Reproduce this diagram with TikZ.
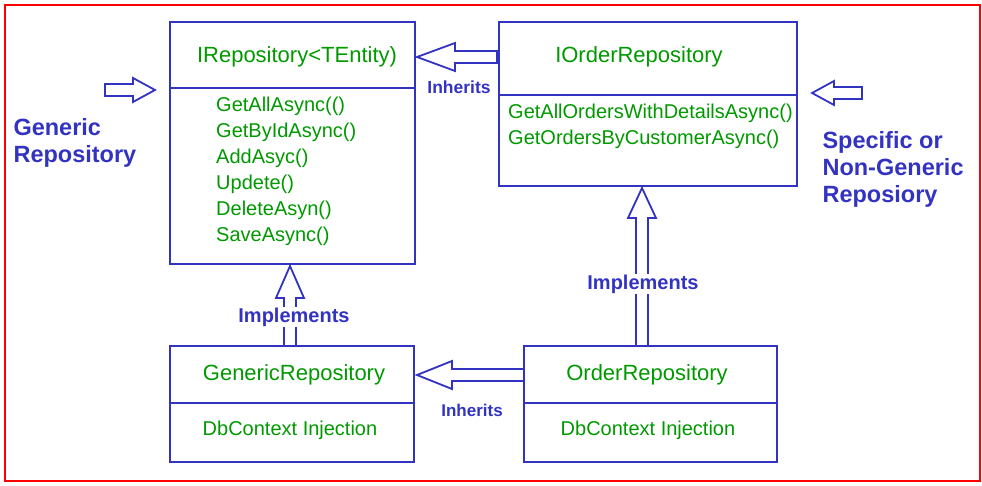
\documentclass[tikz,border=0pt]{standalone}
\usepackage{fontspec}
\setmainfont{Liberation Sans}
\begin{document}
\begin{tikzpicture}[x=1pt,y=-1pt,
  blu/.style={draw=blue!70!black!80, line width=1.8pt},
  box/.style={blu, fill=white},
  ttl/.style={text=green!60!black, font=\fontsize{22}{26}\selectfont},
  mth/.style={text=green!60!black, font=\fontsize{20}{26}\selectfont, align=left, inner sep=0pt},
  lbl/.style={text=blue!70!black!80, font=\bfseries\fontsize{20}{24}\selectfont, fill=white, inner sep=1pt},
  big/.style={text=blue!70!black!80, font=\bfseries\fontsize{23.5}{27}\selectfont, align=left}]
\useasboundingbox (0,0) rectangle (982,486);
\draw[red, line width=1.8pt] (5,5) rectangle (980,481);
% boxes
\draw[box] (170,22) rectangle (415,264); \draw[blu] (170,88) -- (415,88);
\draw[box] (499,22) rectangle (797,186); \draw[blu] (499,95) -- (797,95);
\draw[box] (170,346) rectangle (414,462); \draw[blu] (170,403) -- (414,403);
\draw[box] (524,346) rectangle (777,462); \draw[blu] (524,403) -- (777,403);
\node[ttl] (ir) at (297,57) {IRepository<TEntity)};
\node[mth, anchor=north west] (irm) at (216,97) {GetAllAsync(()\\GetByIdAsync()\\AddAsyc()\\Updete()\\DeleteAsyn()\\SaveAsync()};
\node[ttl] (ior) at (639,57) {IOrderRepository};
\node[mth, anchor=north west] (iorm) at (508,104) {GetAllOrdersWithDetailsAsync()\\GetOrdersByCustomerAsync()};
\node[ttl] (gr) at (294,375) {GenericRepository};
\node[mth] (grm) at (290,430) {DbContext Injection};
\node[ttl] (or) at (647,375) {OrderRepository};
\node[mth] (orm) at (648,430) {DbContext Injection};
% hollow arrows
\draw[blu, fill=white] (417,57) -- (455,43) -- (455,51) -- (497,51) -- (497,63) -- (455,63) -- (455,71) -- cycle;
\node[lbl, fill=none, font=\bfseries\fontsize{17.5}{20}\selectfont] (inh1) at (459,87) {Inherits};
\draw[blu, fill=white] (417,375) -- (452,361) -- (452,369) -- (524,369) -- (524,381) -- (452,381) -- (452,389) -- cycle;
\node[lbl, fill=none, font=\bfseries\fontsize{17}{19}\selectfont] (inh2) at (472,410) {Inherits};
\draw[blu, fill=white] (290,266) -- (304,298) -- (296,298) -- (296,346) -- (284,346) -- (284,298) -- (276,298) -- cycle;
\node[lbl] (imp1) at (294,317) {Implements};
\draw[blu, fill=white] (642,188) -- (656,218) -- (648,218) -- (648,346) -- (636,346) -- (636,218) -- (628,218) -- cycle;
\node[lbl] (imp2) at (643,284) {Implements};
\draw[blu, fill=white] (155,90) -- (133,78) -- (133,84) -- (105,84) -- (105,96) -- (133,96) -- (133,102) -- cycle;
\draw[blu, fill=white] (812,93) -- (834,81) -- (834,87) -- (862,87) -- (862,99) -- (834,99) -- (834,105) -- cycle;
\node[big, anchor=west] (gen) at (10,143) {Generic\\Repository};
\node[big, anchor=west] (spec) at (819,169) {Specific or\\Non-Generic\\Reposiory};
\end{tikzpicture}
\end{document}
